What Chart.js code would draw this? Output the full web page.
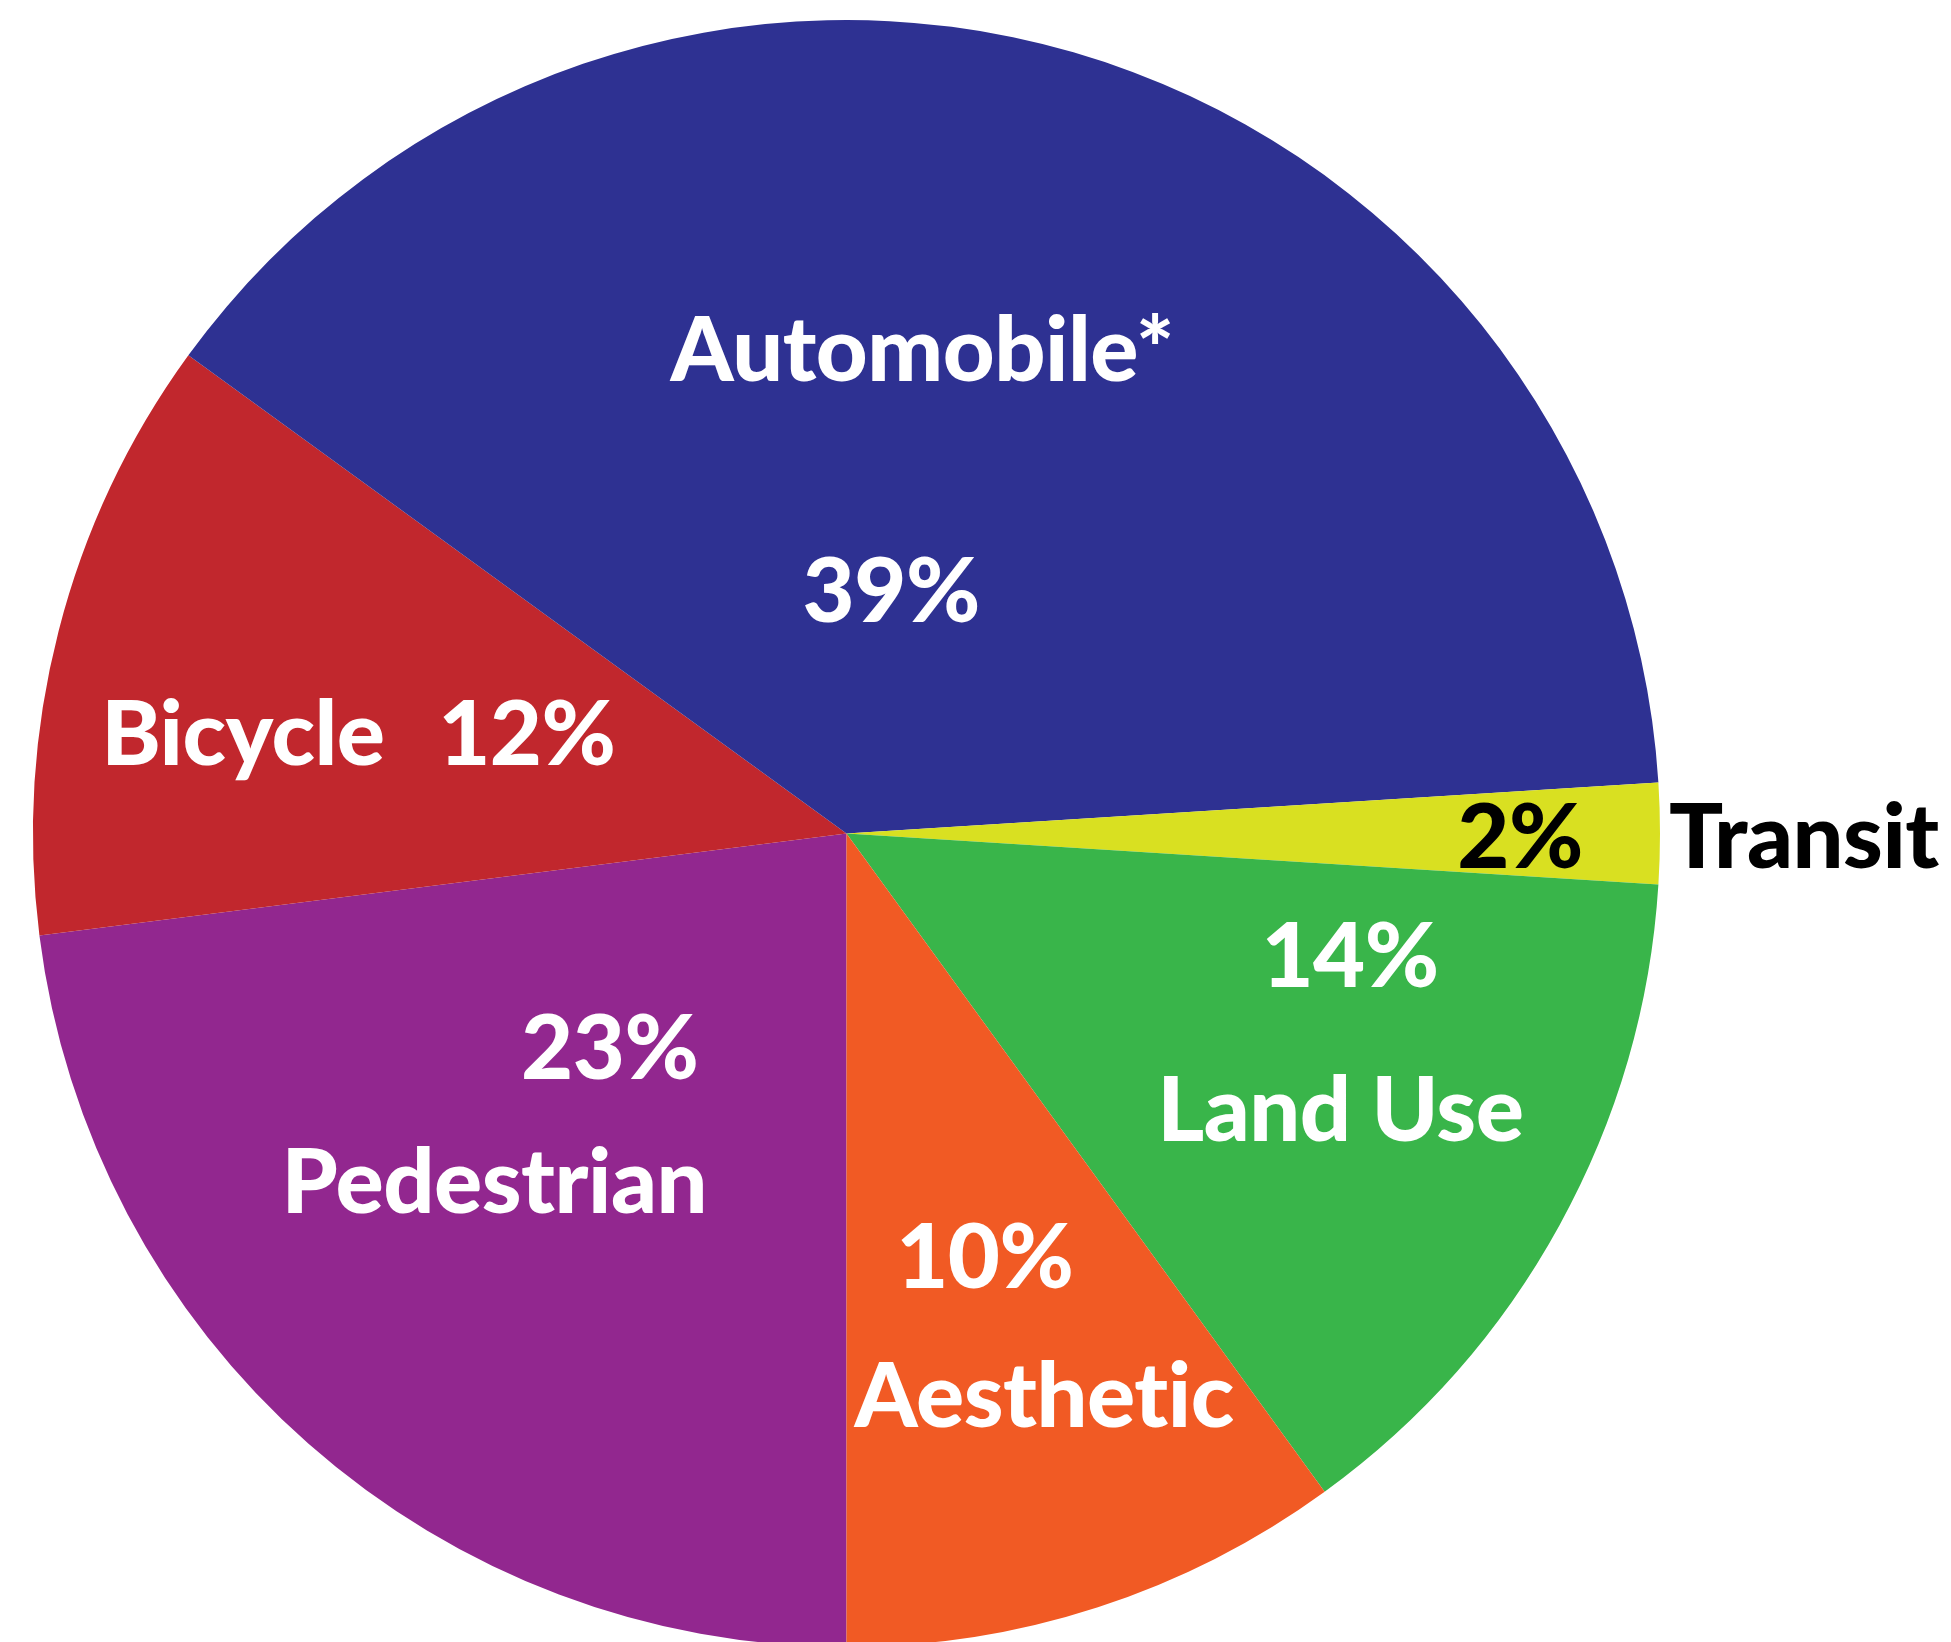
<!DOCTYPE html>
<html>
<head>
<meta charset="utf-8">
<script src="https://cdn.jsdelivr.net/npm/chart.js@4"></script>
<style>
  html, body { margin: 0; padding: 0; background: #fff; overflow: hidden; }
  #wrap { position: absolute; left: 0; top: 0; width: 1951px; height: 1660px; }
</style>
</head>
<body>
<div id="wrap"><canvas id="pie"></canvas></div>
<script>
// Data (clockwise from straight down)
const categories = ['Pedestrian', 'Bicycle', 'Automobile*', 'Transit', 'Land Use', 'Aesthetic'];
const shares = [23, 12, 39, 2, 14, 10];
const sliceColors = ['#92278F', '#C1272D', '#2E3192', '#D9E021', '#39B54A', '#F15A24'];

// Label placement, in units of the pie radius from its centre (baseline of text)
const labelLayout = [
  { name: [-0.433, 0.466], pct: [-0.291, 0.302] },
  { name: [-0.742, -0.084], pct: [-0.393, -0.084] },
  { name: [0.093, -0.556], pct: [0.055, -0.260] },
  { name: [1.011, 0.042], pct: [0.828, 0.042], outside: true },
  { name: [0.607, 0.378], pct: [0.619, 0.189] },
  { name: [0.243, 0.730], pct: [0.170, 0.559] }
];

const labelFont = '900 90px Lato';

const sliceLabels = {
  id: 'sliceLabels',
  afterDatasetsDraw(chart) {
    const ctx = chart.ctx;
    const meta = chart.getDatasetMeta(0);
    ctx.save();
    ctx.font = labelFont;
    ctx.letterSpacing = '-0.5px'; // also stops the "ti" ligature
    ctx.textBaseline = 'alphabetic';
    meta.data.forEach((arc, i) => {
      const r = arc.outerRadius;
      const lay = labelLayout[i];
      ctx.fillStyle = lay.outside ? '#000' : '#fff';
      ctx.textAlign = 'center';
      ctx.fillText(shares[i] + '%', arc.x + lay.pct[0] * r, arc.y + lay.pct[1] * r);
      ctx.textAlign = lay.outside ? 'left' : 'center';
      ctx.fillText(categories[i], arc.x + lay.name[0] * r, arc.y + lay.name[1] * r);
    });
    ctx.restore();
  }
};

new Chart(document.getElementById('pie'), {
  type: 'pie',
  data: {
    labels: categories,
    datasets: [{
      data: shares,
      backgroundColor: sliceColors,
      borderWidth: 0
    }]
  },
  options: {
    responsive: true,
    maintainAspectRatio: false,
    animation: false,
    rotation: 180,
    layout: { padding: { left: 33, top: 20, right: 291, bottom: 13 } },
    plugins: {
      legend: { display: false },
      tooltip: { enabled: false }
    }
  },
  plugins: [sliceLabels]
});
</script>
</body>
</html>
